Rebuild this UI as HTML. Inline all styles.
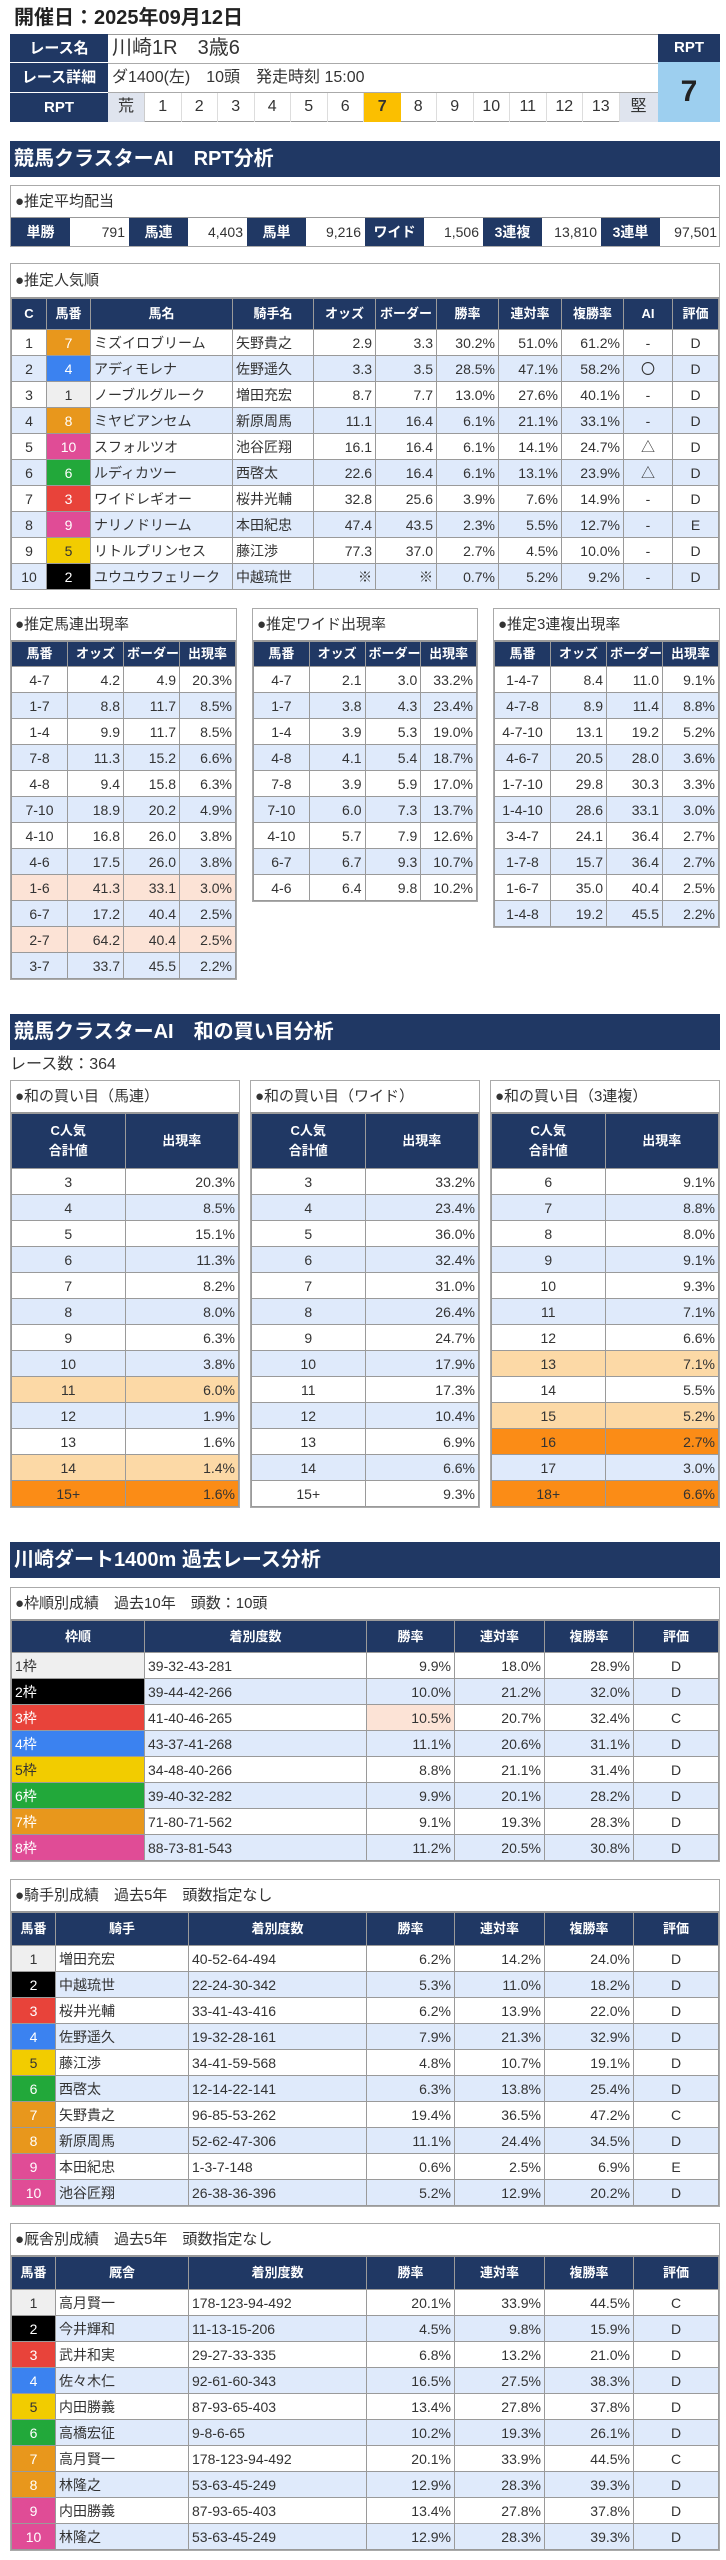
<!DOCTYPE html>
<html><head><meta charset="utf-8">
<style>
*{box-sizing:border-box}
body{margin:0;width:726px;height:2560px;background:#fff;position:relative;font-family:"Liberation Sans","Noto Sans CJK JP",sans-serif;color:#333;overflow:hidden}
.abs{position:absolute}
.navy{background:#203864;color:#fff}
.sec{position:absolute;left:10px;width:710px;height:36px;background:#203864;color:#fff;font-weight:bold;font-size:20px;line-height:36px;padding-left:4px}
.box{position:absolute;border:1px solid #aaa;background:#fff}
.lbl{height:32px;line-height:32px;padding-left:4px;font-size:15px;border-bottom:1px solid #999}
table{border-collapse:collapse;width:100%;table-layout:fixed}
td,th{border:1px solid #9a9a9a;padding:0 3px;font-size:14px;line-height:24px;white-space:nowrap;overflow:hidden}
tr{height:26px}
th{background:#203864;color:#fff;font-weight:bold;font-size:13px;text-align:center}
.r{text-align:right}.c{text-align:center}.l{text-align:left}
.b{background:#dfeafb}
.pk{background:#fce3d6}
.lo{background:#fcd9a6}
.do{background:#fb8c16}
.f1{background:#efefef;color:#333}.f2{background:#000;color:#fff}.f3{background:#e8433a;color:#fff}.f4{background:#3b82f0;color:#fff}.f5{background:#f2cc00;color:#333}.f6{background:#22a83a;color:#fff}.f7{background:#e8971c;color:#fff}.f9{background:#e04c96;color:#fff}
</style></head><body>

<div class="abs" style="left:14px;top:4px;font-size:20px;font-weight:bold;line-height:28px;color:#222">開催日：2025年09月12日</div>

<!-- race table -->
<div class="abs" style="left:10px;top:34px;width:710px;height:88px;border:1px solid #999;background:#fff"></div>
<div class="abs navy" style="left:10px;top:34px;width:98px;height:29px;line-height:29px;text-align:center;font-weight:bold;font-size:15px;border-bottom:1px solid #fff">レース名</div>
<div class="abs navy" style="left:10px;top:63px;width:98px;height:30px;line-height:30px;text-align:center;font-weight:bold;font-size:15px;border-bottom:1px solid #fff">レース詳細</div>
<div class="abs navy" style="left:10px;top:93px;width:98px;height:29px;line-height:29px;text-align:center;font-weight:bold;font-size:15px">RPT</div>
<div class="abs" style="left:112px;top:34px;height:29px;line-height:29px;font-size:20px">川崎1R　3歳6</div>
<div class="abs" style="left:108px;top:63px;width:550px;height:30px;border-top:1px solid #aaa;border-bottom:1px solid #aaa"></div>
<div class="abs" style="left:112px;top:63px;height:30px;line-height:30px;font-size:16px">ダ1400(左)　10頭　発走時刻 15:00</div>
<div class="abs" style="left:108px;top:93px;width:550px;height:29px;display:flex;font-size:16px;line-height:28px;text-align:center">
<div style="width:37px;background:#dfe4ee;border-right:1px solid #ccc">荒</div>
<div style="width:36.5px;border-right:1px solid #ddd">1</div><div style="width:36.5px;border-right:1px solid #ddd">2</div><div style="width:36.5px;border-right:1px solid #ddd">3</div><div style="width:36.5px;border-right:1px solid #ddd">4</div><div style="width:36.5px;border-right:1px solid #ddd">5</div><div style="width:36.5px;border-right:1px solid #ddd">6</div><div style="width:36.5px;background:#fbbf00;font-weight:bold">7</div><div style="width:36.5px;border-right:1px solid #ddd">8</div><div style="width:36.5px;border-right:1px solid #ddd">9</div><div style="width:36.5px;border-right:1px solid #ddd">10</div><div style="width:36.5px;border-right:1px solid #ddd">11</div><div style="width:36.5px;border-right:1px solid #ddd">12</div><div style="width:36.5px;border-right:1px solid #ddd">13</div>
<div style="width:38px;background:#dfe4ee">堅</div></div>
<div class="abs navy" style="left:658px;top:34px;width:62px;height:28px;line-height:28px;text-align:center;font-weight:bold;font-size:15px">RPT</div>
<div class="abs" style="left:658px;top:62px;width:62px;height:60px;line-height:60px;text-align:center;font-weight:bold;font-size:30px;background:#9dcfef;color:#222">7</div>

<div class="sec" style="top:141px">競馬クラスターAI　RPT分析</div>

<div class="box" style="left:10px;top:185px;width:710px;height:62px">
<div class="lbl">●推定平均配当</div>
<div style="display:flex;height:28px;line-height:28px;font-size:14px">
<div class="navy c" style="width:59px;font-weight:bold">単勝</div><div class="r" style="width:59px;padding-right:4px">791</div>
<div class="navy c" style="width:59px;font-weight:bold">馬連</div><div class="r" style="width:59px;padding-right:4px">4,403</div>
<div class="navy c" style="width:59px;font-weight:bold">馬単</div><div class="r" style="width:59px;padding-right:4px">9,216</div>
<div class="navy c" style="width:59px;font-weight:bold">ワイド</div><div class="r" style="width:59px;padding-right:4px">1,506</div>
<div class="navy c" style="width:59px;font-weight:bold">3連複</div><div class="r" style="width:59px;padding-right:4px">13,810</div>
<div class="navy c" style="width:59px;font-weight:bold">3連単</div><div class="r" style="width:59px;padding-right:2px">97,501</div>
</div></div>

<div class="box" style="left:10px;top:263px;width:710px;height:327px">
<div class="lbl" style="height:34px;line-height:34px">●推定人気順</div>
<table>
<colgroup><col style="width:35px"><col style="width:44px"><col style="width:142px"><col style="width:81px"><col style="width:62px"><col style="width:61px"><col style="width:62px"><col style="width:63px"><col style="width:62px"><col style="width:49px"><col></colgroup>
<tr style="height:31px"><th>C</th><th>馬番</th><th>馬名</th><th>騎手名</th><th>オッズ</th><th>ボーダー</th><th>勝率</th><th>連対率</th><th>複勝率</th><th>AI</th><th>評価</th></tr>
<tr><td class="c">1</td><td class="c f7">7</td><td>ミズイロブリーム</td><td>矢野貴之</td><td class="r">2.9</td><td class="r">3.3</td><td class="r">30.2%</td><td class="r">51.0%</td><td class="r">61.2%</td><td class="c">-</td><td class="c">D</td></tr>
<tr class="b"><td class="c">2</td><td class="c f4">4</td><td>アディモレナ</td><td>佐野遥久</td><td class="r">3.3</td><td class="r">3.5</td><td class="r">28.5%</td><td class="r">47.1%</td><td class="r">58.2%</td><td class="c">〇</td><td class="c">D</td></tr>
<tr><td class="c">3</td><td class="c f1">1</td><td>ノーブルグルーク</td><td>増田充宏</td><td class="r">8.7</td><td class="r">7.7</td><td class="r">13.0%</td><td class="r">27.6%</td><td class="r">40.1%</td><td class="c">-</td><td class="c">D</td></tr>
<tr class="b"><td class="c">4</td><td class="c f7">8</td><td>ミヤビアンセム</td><td>新原周馬</td><td class="r">11.1</td><td class="r">16.4</td><td class="r">6.1%</td><td class="r">21.1%</td><td class="r">33.1%</td><td class="c">-</td><td class="c">D</td></tr>
<tr><td class="c">5</td><td class="c f9">10</td><td>スフォルツオ</td><td>池谷匠翔</td><td class="r">16.1</td><td class="r">16.4</td><td class="r">6.1%</td><td class="r">14.1%</td><td class="r">24.7%</td><td class="c">△</td><td class="c">D</td></tr>
<tr class="b"><td class="c">6</td><td class="c f6">6</td><td>ルディカツー</td><td>西啓太</td><td class="r">22.6</td><td class="r">16.4</td><td class="r">6.1%</td><td class="r">13.1%</td><td class="r">23.9%</td><td class="c">△</td><td class="c">D</td></tr>
<tr><td class="c">7</td><td class="c f3">3</td><td>ワイドレギオー</td><td>桜井光輔</td><td class="r">32.8</td><td class="r">25.6</td><td class="r">3.9%</td><td class="r">7.6%</td><td class="r">14.9%</td><td class="c">-</td><td class="c">D</td></tr>
<tr class="b"><td class="c">8</td><td class="c f9">9</td><td>ナリノドリーム</td><td>本田紀忠</td><td class="r">47.4</td><td class="r">43.5</td><td class="r">2.3%</td><td class="r">5.5%</td><td class="r">12.7%</td><td class="c">-</td><td class="c">E</td></tr>
<tr><td class="c">9</td><td class="c f5">5</td><td>リトルプリンセス</td><td>藤江渉</td><td class="r">77.3</td><td class="r">37.0</td><td class="r">2.7%</td><td class="r">4.5%</td><td class="r">10.0%</td><td class="c">-</td><td class="c">D</td></tr>
<tr class="b"><td class="c">10</td><td class="c f2">2</td><td>ユウユウフェリーク</td><td>中越琉世</td><td class="r">※</td><td class="r">※</td><td class="r">0.7%</td><td class="r">5.2%</td><td class="r">9.2%</td><td class="c">-</td><td class="c">D</td></tr>
</table></div>

<!-- three tables -->
<div class="box" style="left:10px;top:608px;width:227px">
<div class="lbl">●推定馬連出現率</div>
<table><tr style="height:21px"><th>馬番</th><th>オッズ</th><th>ボーダー</th><th>出現率</th></tr>
<tr><td class="c">4-7</td><td class="r">4.2</td><td class="r">4.9</td><td class="r">20.3%</td></tr>
<tr class="b"><td class="c">1-7</td><td class="r">8.8</td><td class="r">11.7</td><td class="r">8.5%</td></tr>
<tr><td class="c">1-4</td><td class="r">9.9</td><td class="r">11.7</td><td class="r">8.5%</td></tr>
<tr class="b"><td class="c">7-8</td><td class="r">11.3</td><td class="r">15.2</td><td class="r">6.6%</td></tr>
<tr><td class="c">4-8</td><td class="r">9.4</td><td class="r">15.8</td><td class="r">6.3%</td></tr>
<tr class="b"><td class="c">7-10</td><td class="r">18.9</td><td class="r">20.2</td><td class="r">4.9%</td></tr>
<tr><td class="c">4-10</td><td class="r">16.8</td><td class="r">26.0</td><td class="r">3.8%</td></tr>
<tr class="b"><td class="c">4-6</td><td class="r">17.5</td><td class="r">26.0</td><td class="r">3.8%</td></tr>
<tr class="pk"><td class="c">1-6</td><td class="r">41.3</td><td class="r">33.1</td><td class="r">3.0%</td></tr>
<tr class="b"><td class="c">6-7</td><td class="r">17.2</td><td class="r">40.4</td><td class="r">2.5%</td></tr>
<tr class="pk"><td class="c">2-7</td><td class="r">64.2</td><td class="r">40.4</td><td class="r">2.5%</td></tr>
<tr class="b"><td class="c">3-7</td><td class="r">33.7</td><td class="r">45.5</td><td class="r">2.2%</td></tr>
</table></div>

<div class="box" style="left:252px;top:608px;width:226px">
<div class="lbl">●推定ワイド出現率</div>
<table><tr style="height:21px"><th>馬番</th><th>オッズ</th><th>ボーダー</th><th>出現率</th></tr>
<tr><td class="c">4-7</td><td class="r">2.1</td><td class="r">3.0</td><td class="r">33.2%</td></tr>
<tr class="b"><td class="c">1-7</td><td class="r">3.8</td><td class="r">4.3</td><td class="r">23.4%</td></tr>
<tr><td class="c">1-4</td><td class="r">3.9</td><td class="r">5.3</td><td class="r">19.0%</td></tr>
<tr class="b"><td class="c">4-8</td><td class="r">4.1</td><td class="r">5.4</td><td class="r">18.7%</td></tr>
<tr><td class="c">7-8</td><td class="r">3.9</td><td class="r">5.9</td><td class="r">17.0%</td></tr>
<tr class="b"><td class="c">7-10</td><td class="r">6.0</td><td class="r">7.3</td><td class="r">13.7%</td></tr>
<tr><td class="c">4-10</td><td class="r">5.7</td><td class="r">7.9</td><td class="r">12.6%</td></tr>
<tr class="b"><td class="c">6-7</td><td class="r">6.7</td><td class="r">9.3</td><td class="r">10.7%</td></tr>
<tr><td class="c">4-6</td><td class="r">6.4</td><td class="r">9.8</td><td class="r">10.2%</td></tr>
</table></div>

<div class="box" style="left:493px;top:608px;width:227px">
<div class="lbl">●推定3連複出現率</div>
<table><tr style="height:21px"><th>馬番</th><th>オッズ</th><th>ボーダー</th><th>出現率</th></tr>
<tr><td class="c">1-4-7</td><td class="r">8.4</td><td class="r">11.0</td><td class="r">9.1%</td></tr>
<tr class="b"><td class="c">4-7-8</td><td class="r">8.9</td><td class="r">11.4</td><td class="r">8.8%</td></tr>
<tr><td class="c">4-7-10</td><td class="r">13.1</td><td class="r">19.2</td><td class="r">5.2%</td></tr>
<tr class="b"><td class="c">4-6-7</td><td class="r">20.5</td><td class="r">28.0</td><td class="r">3.6%</td></tr>
<tr><td class="c">1-7-10</td><td class="r">29.8</td><td class="r">30.3</td><td class="r">3.3%</td></tr>
<tr class="b"><td class="c">1-4-10</td><td class="r">28.6</td><td class="r">33.1</td><td class="r">3.0%</td></tr>
<tr><td class="c">3-4-7</td><td class="r">24.1</td><td class="r">36.4</td><td class="r">2.7%</td></tr>
<tr class="b"><td class="c">1-7-8</td><td class="r">15.7</td><td class="r">36.4</td><td class="r">2.7%</td></tr>
<tr><td class="c">1-6-7</td><td class="r">35.0</td><td class="r">40.4</td><td class="r">2.5%</td></tr>
<tr class="b"><td class="c">1-4-8</td><td class="r">19.2</td><td class="r">45.5</td><td class="r">2.2%</td></tr>
</table></div>

<div class="sec" style="top:1014px">競馬クラスターAI　和の買い目分析</div>
<div class="abs" style="left:10px;top:1053px;font-size:16px;line-height:24px">レース数：364</div>

<div class="box" style="left:10px;top:1080px;width:230px">
<div class="lbl">●和の買い目（馬連）</div>
<table><tr style="height:55px"><th style="line-height:20px">C人気<br>合計値</th><th>出現率</th></tr>
<tr><td class="c">3</td><td class="r">20.3%</td></tr>
<tr class="b"><td class="c">4</td><td class="r">8.5%</td></tr>
<tr><td class="c">5</td><td class="r">15.1%</td></tr>
<tr class="b"><td class="c">6</td><td class="r">11.3%</td></tr>
<tr><td class="c">7</td><td class="r">8.2%</td></tr>
<tr class="b"><td class="c">8</td><td class="r">8.0%</td></tr>
<tr><td class="c">9</td><td class="r">6.3%</td></tr>
<tr class="b"><td class="c">10</td><td class="r">3.8%</td></tr>
<tr class="lo"><td class="c">11</td><td class="r">6.0%</td></tr>
<tr class="b"><td class="c">12</td><td class="r">1.9%</td></tr>
<tr><td class="c">13</td><td class="r">1.6%</td></tr>
<tr class="lo"><td class="c">14</td><td class="r">1.4%</td></tr>
<tr class="do"><td class="c">15+</td><td class="r">1.6%</td></tr>
</table></div>

<div class="box" style="left:250px;top:1080px;width:230px">
<div class="lbl">●和の買い目（ワイド）</div>
<table><tr style="height:55px"><th style="line-height:20px">C人気<br>合計値</th><th>出現率</th></tr>
<tr><td class="c">3</td><td class="r">33.2%</td></tr>
<tr class="b"><td class="c">4</td><td class="r">23.4%</td></tr>
<tr><td class="c">5</td><td class="r">36.0%</td></tr>
<tr class="b"><td class="c">6</td><td class="r">32.4%</td></tr>
<tr><td class="c">7</td><td class="r">31.0%</td></tr>
<tr class="b"><td class="c">8</td><td class="r">26.4%</td></tr>
<tr><td class="c">9</td><td class="r">24.7%</td></tr>
<tr class="b"><td class="c">10</td><td class="r">17.9%</td></tr>
<tr><td class="c">11</td><td class="r">17.3%</td></tr>
<tr class="b"><td class="c">12</td><td class="r">10.4%</td></tr>
<tr><td class="c">13</td><td class="r">6.9%</td></tr>
<tr class="b"><td class="c">14</td><td class="r">6.6%</td></tr>
<tr><td class="c">15+</td><td class="r">9.3%</td></tr>
</table></div>

<div class="box" style="left:490px;top:1080px;width:230px">
<div class="lbl">●和の買い目（3連複）</div>
<table><tr style="height:55px"><th style="line-height:20px">C人気<br>合計値</th><th>出現率</th></tr>
<tr><td class="c">6</td><td class="r">9.1%</td></tr>
<tr class="b"><td class="c">7</td><td class="r">8.8%</td></tr>
<tr><td class="c">8</td><td class="r">8.0%</td></tr>
<tr class="b"><td class="c">9</td><td class="r">9.1%</td></tr>
<tr><td class="c">10</td><td class="r">9.3%</td></tr>
<tr class="b"><td class="c">11</td><td class="r">7.1%</td></tr>
<tr><td class="c">12</td><td class="r">6.6%</td></tr>
<tr class="lo"><td class="c">13</td><td class="r">7.1%</td></tr>
<tr><td class="c">14</td><td class="r">5.5%</td></tr>
<tr class="lo"><td class="c">15</td><td class="r">5.2%</td></tr>
<tr class="do"><td class="c">16</td><td class="r">2.7%</td></tr>
<tr class="b"><td class="c">17</td><td class="r">3.0%</td></tr>
<tr class="do"><td class="c">18+</td><td class="r">6.6%</td></tr>
</table></div>

<div class="sec" style="top:1542px">川崎ダート1400m 過去レース分析</div>

<div class="box" style="left:10px;top:1587px;width:710px">
<div class="lbl">●枠順別成績　過去10年　頭数：10頭</div>
<table><colgroup><col style="width:133px"><col style="width:222px"><col style="width:88px"><col style="width:90px"><col style="width:89px"><col></colgroup>
<tr style="height:32px"><th>枠順</th><th>着別度数</th><th>勝率</th><th>連対率</th><th>複勝率</th><th>評価</th></tr>
<tr><td class="f1">1枠</td><td>39-32-43-281</td><td class="r">9.9%</td><td class="r">18.0%</td><td class="r">28.9%</td><td class="c">D</td></tr>
<tr class="b"><td class="f2">2枠</td><td>39-44-42-266</td><td class="r">10.0%</td><td class="r">21.2%</td><td class="r">32.0%</td><td class="c">D</td></tr>
<tr><td class="f3">3枠</td><td>41-40-46-265</td><td class="r pk">10.5%</td><td class="r">20.7%</td><td class="r">32.4%</td><td class="c">C</td></tr>
<tr class="b"><td class="f4">4枠</td><td>43-37-41-268</td><td class="r">11.1%</td><td class="r">20.6%</td><td class="r">31.1%</td><td class="c">D</td></tr>
<tr><td class="f5">5枠</td><td>34-48-40-266</td><td class="r">8.8%</td><td class="r">21.1%</td><td class="r">31.4%</td><td class="c">D</td></tr>
<tr class="b"><td class="f6">6枠</td><td>39-40-32-282</td><td class="r">9.9%</td><td class="r">20.1%</td><td class="r">28.2%</td><td class="c">D</td></tr>
<tr><td class="f7">7枠</td><td>71-80-71-562</td><td class="r">9.1%</td><td class="r">19.3%</td><td class="r">28.3%</td><td class="c">D</td></tr>
<tr class="b"><td class="f9">8枠</td><td>88-73-81-543</td><td class="r">11.2%</td><td class="r">20.5%</td><td class="r">30.8%</td><td class="c">D</td></tr>
</table></div>

<div class="box" style="left:10px;top:1879px;width:710px">
<div class="lbl">●騎手別成績　過去5年　頭数指定なし</div>
<table><colgroup><col style="width:44px"><col style="width:133px"><col style="width:178px"><col style="width:88px"><col style="width:90px"><col style="width:89px"><col></colgroup>
<tr style="height:33px"><th>馬番</th><th>騎手</th><th>着別度数</th><th>勝率</th><th>連対率</th><th>複勝率</th><th>評価</th></tr>
<tr><td class="c f1">1</td><td>増田充宏</td><td>40-52-64-494</td><td class="r">6.2%</td><td class="r">14.2%</td><td class="r">24.0%</td><td class="c">D</td></tr>
<tr class="b"><td class="c f2">2</td><td>中越琉世</td><td>22-24-30-342</td><td class="r">5.3%</td><td class="r">11.0%</td><td class="r">18.2%</td><td class="c">D</td></tr>
<tr><td class="c f3">3</td><td>桜井光輔</td><td>33-41-43-416</td><td class="r">6.2%</td><td class="r">13.9%</td><td class="r">22.0%</td><td class="c">D</td></tr>
<tr class="b"><td class="c f4">4</td><td>佐野遥久</td><td>19-32-28-161</td><td class="r">7.9%</td><td class="r">21.3%</td><td class="r">32.9%</td><td class="c">D</td></tr>
<tr><td class="c f5">5</td><td>藤江渉</td><td>34-41-59-568</td><td class="r">4.8%</td><td class="r">10.7%</td><td class="r">19.1%</td><td class="c">D</td></tr>
<tr class="b"><td class="c f6">6</td><td>西啓太</td><td>12-14-22-141</td><td class="r">6.3%</td><td class="r">13.8%</td><td class="r">25.4%</td><td class="c">D</td></tr>
<tr><td class="c f7">7</td><td>矢野貴之</td><td>96-85-53-262</td><td class="r">19.4%</td><td class="r">36.5%</td><td class="r">47.2%</td><td class="c">C</td></tr>
<tr class="b"><td class="c f7">8</td><td>新原周馬</td><td>52-62-47-306</td><td class="r">11.1%</td><td class="r">24.4%</td><td class="r">34.5%</td><td class="c">D</td></tr>
<tr><td class="c f9">9</td><td>本田紀忠</td><td>1-3-7-148</td><td class="r">0.6%</td><td class="r">2.5%</td><td class="r">6.9%</td><td class="c">E</td></tr>
<tr class="b"><td class="c f9">10</td><td>池谷匠翔</td><td>26-38-36-396</td><td class="r">5.2%</td><td class="r">12.9%</td><td class="r">20.2%</td><td class="c">D</td></tr>
</table></div>

<div class="box" style="left:10px;top:2223px;width:710px">
<div class="lbl">●厩舎別成績　過去5年　頭数指定なし</div>
<table><colgroup><col style="width:44px"><col style="width:133px"><col style="width:178px"><col style="width:88px"><col style="width:90px"><col style="width:89px"><col></colgroup>
<tr style="height:33px"><th>馬番</th><th>厩舎</th><th>着別度数</th><th>勝率</th><th>連対率</th><th>複勝率</th><th>評価</th></tr>
<tr><td class="c f1">1</td><td>高月賢一</td><td>178-123-94-492</td><td class="r">20.1%</td><td class="r">33.9%</td><td class="r">44.5%</td><td class="c">C</td></tr>
<tr class="b"><td class="c f2">2</td><td>今井輝和</td><td>11-13-15-206</td><td class="r">4.5%</td><td class="r">9.8%</td><td class="r">15.9%</td><td class="c">D</td></tr>
<tr><td class="c f3">3</td><td>武井和実</td><td>29-27-33-335</td><td class="r">6.8%</td><td class="r">13.2%</td><td class="r">21.0%</td><td class="c">D</td></tr>
<tr class="b"><td class="c f4">4</td><td>佐々木仁</td><td>92-61-60-343</td><td class="r">16.5%</td><td class="r">27.5%</td><td class="r">38.3%</td><td class="c">D</td></tr>
<tr><td class="c f5">5</td><td>内田勝義</td><td>87-93-65-403</td><td class="r">13.4%</td><td class="r">27.8%</td><td class="r">37.8%</td><td class="c">D</td></tr>
<tr class="b"><td class="c f6">6</td><td>高橋宏征</td><td>9-8-6-65</td><td class="r">10.2%</td><td class="r">19.3%</td><td class="r">26.1%</td><td class="c">D</td></tr>
<tr><td class="c f7">7</td><td>高月賢一</td><td>178-123-94-492</td><td class="r">20.1%</td><td class="r">33.9%</td><td class="r">44.5%</td><td class="c">C</td></tr>
<tr class="b"><td class="c f7">8</td><td>林隆之</td><td>53-63-45-249</td><td class="r">12.9%</td><td class="r">28.3%</td><td class="r">39.3%</td><td class="c">D</td></tr>
<tr><td class="c f9">9</td><td>内田勝義</td><td>87-93-65-403</td><td class="r">13.4%</td><td class="r">27.8%</td><td class="r">37.8%</td><td class="c">D</td></tr>
<tr class="b"><td class="c f9">10</td><td>林隆之</td><td>53-63-45-249</td><td class="r">12.9%</td><td class="r">28.3%</td><td class="r">39.3%</td><td class="c">D</td></tr>
</table></div>

</body></html>
